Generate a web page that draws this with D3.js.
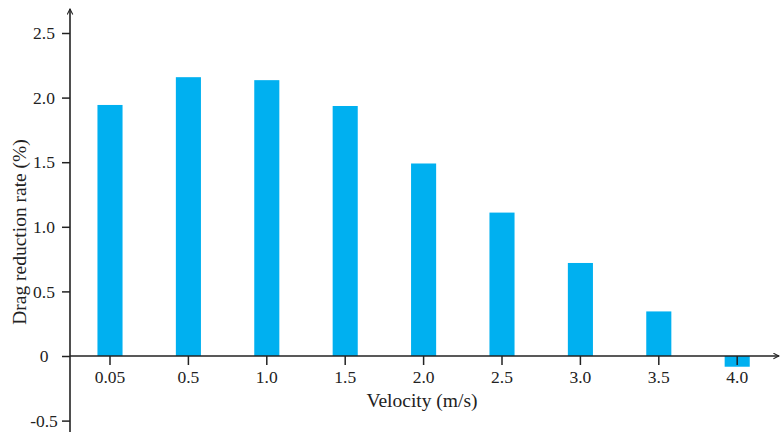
<!DOCTYPE html>
<html>
<head>
<meta charset="utf-8">
<script src="https://cdn.jsdelivr.net/npm/d3@7"></script>
<style>
  body { margin: 0; background: #fff; }
  text { font-family: "Liberation Serif", "Times New Roman", serif; fill: #222; }
</style>
</head>
<body>
<div id="chart"></div>
<script>
/* Drag reduction rate vs velocity */

const velocities = ["0.05", "0.5", "1.0", "1.5", "2.0", "2.5", "3.0", "3.5", "4.0"];
const dragReduction = [1.943, 2.158, 2.135, 1.935, 1.49, 1.11, 0.72, 0.345, -0.083];
const yTicks = [-0.5, 0, 0.5, 1.0, 1.5, 2.0, 2.5];
const yTickLabels = ["-0.5", "0", "0.5", "1.0", "1.5", "2.0", "2.5"];

const width = 781,
      height = 432;

const svg = d3.select("#chart")
    .append("svg")
    .attr("width", width)
    .attr("height", height)
    .attr("viewBox", [0, 0, width, height]);

const x = d3.scaleBand()
    .domain(velocities)
    .range([70.8, 776.4])
    .paddingInner(0.68)
    .paddingOuter(0.34);

const y = d3.scaleLinear()
    .domain([0, 2.5])
    .range([356, 33]);

const axisX = 70;

// bars
svg.append("g")
    .selectAll("rect")
    .data(velocities.map((v, i) => ({ v, val: dragReduction[i] })))
    .join("rect")
    .attr("x", d => x(d.v))
    .attr("width", x.bandwidth())
    .attr("y", d => y(Math.max(0, d.val)))
    .attr("height", d => Math.abs(y(d.val) - y(0)))
    .attr("fill", "#00b0f0");

// arrow marker
svg.append("defs").append("marker")
    .attr("id", "arrow")
    .attr("viewBox", "0 0 10 10")
    .attr("refX", 9).attr("refY", 5)
    .attr("markerWidth", 7).attr("markerHeight", 7)
    .attr("markerUnits", "userSpaceOnUse")
    .attr("orient", "auto")
    .append("path")
    .attr("d", "M1,1 L9,5 L1,9")
    .attr("fill", "none")
    .attr("stroke", "#222")
    .attr("stroke-width", 1.5);

// x axis
const xAxis = g => g
    .attr("transform", `translate(0,${y(0)})`)
    .call(d3.axisBottom(x).tickSize(9).tickPadding(6))
    .call(g => g.select(".domain").remove())
    .call(g => g.selectAll(".tick line").attr("stroke", "#222").attr("stroke-width", 1.5))
    .call(g => g.selectAll(".tick text").attr("font-size", 17.5).attr("fill", "#222")
        .attr("font-family", "Liberation Serif, serif"));

svg.append("g").call(xAxis);

svg.append("line")
    .attr("x1", axisX).attr("x2", 779)
    .attr("y1", y(0)).attr("y2", y(0))
    .attr("stroke", "#222").attr("stroke-width", 1.6)
    .attr("marker-end", "url(#arrow)");

// y axis
const yAxis = g => g
    .attr("transform", `translate(${axisX},0)`)
    .call(d3.axisLeft(y).tickValues(yTicks).tickSize(8).tickFormat((d, i) => yTickLabels[i]))
    .call(g => g.select(".domain").remove())
    .call(g => g.selectAll(".tick line").attr("stroke", "#222").attr("stroke-width", 1.5))
    .call(g => g.selectAll(".tick text")
        .attr("font-size", 17.5).attr("fill", "#222")
        .attr("font-family", "Liberation Serif, serif")
        .attr("text-anchor", "middle")
        .attr("x", -26));

svg.append("g").call(yAxis);

svg.append("line")
    .attr("x1", axisX).attr("x2", axisX)
    .attr("y1", height).attr("y2", 9)
    .attr("stroke", "#222").attr("stroke-width", 1.6)
    .attr("marker-end", "url(#arrow)");

// titles
svg.append("text")
    .attr("x", 422).attr("y", 407)
    .attr("text-anchor", "middle")
    .attr("font-size", 19.5)
    .text("Velocity (m/s)");

svg.append("text")
    .attr("transform", "translate(26,232) rotate(-90)")
    .attr("text-anchor", "middle")
    .attr("font-size", 19.5)
    .text("Drag reduction rate (%)");
</script>
</body>
</html>
